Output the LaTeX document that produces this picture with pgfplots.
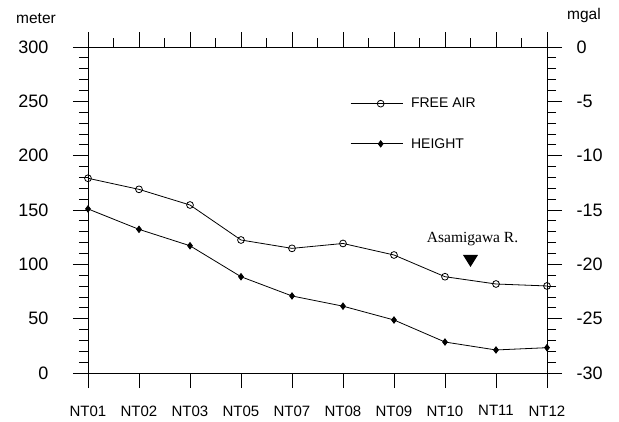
\documentclass[border=0pt]{standalone}
\usepackage{fontspec}
\setmainfont{Liberation Sans}
\newfontfamily\seriffont{Liberation Serif}
\usepackage{pgfplots}
\usepackage{pgfplotstable}
\pgfplotsset{compat=1.18}

% station index (evenly spaced), elevation in meters
\pgfplotstableread{
idx height
0 151
1 132.2
2 117.1
3 88.6
4 70.9
5 61.5
6 48.8
7 28.5
8 21.2
9 23.3
}\heighttable

% station index, free-air anomaly in mgal
\pgfplotstableread{
idx freeair
0 -12.08
1 -13.10
2 -14.54
3 -17.76
4 -18.53
5 -18.08
6 -19.14
7 -21.14
8 -21.81
9 -21.99
}\freeairtable

\begin{document}
\begin{tikzpicture}
\useasboundingbox (-88pt,-48pt) rectangle (531pt,373pt);
\pgfplotsset{
  common/.style={
    scale only axis, width=459pt, height=326pt,
    xmin=0, xmax=9, xtick={0,...,9},
    axis line style={line width=0.8pt},
    tick style={black, line width=0.8pt},
    tick align=outside,
    major tick length=15pt, minor tick length=9pt,
    /pgf/number format/assume math mode=true,
    every tick label/.append style={font=\fontsize{18}{20}\selectfont},
    clip=false,
  },
}
% left axis: elevation
\begin{axis}[common,
    ymin=0, ymax=300,
    xtick pos=bottom, ytick pos=left,
    xticklabels={NT01,NT02,NT03,NT05,NT07,NT08,NT09,NT10,NT11,NT12},
    xticklabel style={font=\fontsize{15}{17}\selectfont, yshift=-14pt},
    ytick={0,50,...,300}, minor y tick num=4,
    yticklabel style={anchor=east, xshift=-21pt},
  ]
  \addplot[black, line width=0.8pt, mark=diamond*, mark size=3.2pt]
    table[x=idx, y=height] {\heighttable};
  % river marker
  \node[font=\seriffont\fontsize{15.5}{17}\selectfont] at (axis cs:7.54,123.5) {Asamigawa R.};
  \fill[black] (axis cs:7.5,108.6) ++(-7.5pt,0pt) -- ++(15pt,0pt) -- ++(-7.5pt,-12pt) -- cycle;
  \node[font=\fontsize{15.5}{17}\selectfont] at (rel axis cs:0,1) [xshift=-52pt, yshift=28pt] {meter};
  \node[font=\fontsize{15.5}{17}\selectfont] at (rel axis cs:1,1) [xshift=37pt, yshift=32pt] {mgal};
\end{axis}
% right axis: free-air anomaly
\begin{axis}[common,
    ymin=-30, ymax=0,
    xtick pos=top, ytick pos=right, yticklabel pos=right,
    xticklabels={}, minor x tick num=1,
    ytick={-30,-25,-20,-15,-10,-5,0},
    yticklabels={-30,-25,-20,-15,-10,-5,0},
    minor y tick num=4,
    yticklabel style={anchor=west, xshift=11pt},
    legend style={draw=none, fill=none, at={(0.571,0.85)}, anchor=north west,
      inner sep=0pt, row sep=25pt, font=\fontsize{14}{16}\selectfont,
      nodes={inner xsep=8pt}},
    legend cell align=left,
    legend image code/.code={
      \draw[#1, mark=none] (0pt,0pt) -- (52pt,0pt);
      \draw[#1, only marks] plot coordinates {(30pt,0pt)};
    },
  ]
  \addplot[black, line width=0.8pt, mark=o, mark size=3.4pt]
    table[x=idx, y=freeair] {\freeairtable};
  \addlegendentry{FREE AIR}
  \addlegendimage{black, line width=0.8pt, mark=diamond*, mark size=3.2pt}
  \addlegendentry{HEIGHT}
\end{axis}
\end{tikzpicture}
\end{document}
